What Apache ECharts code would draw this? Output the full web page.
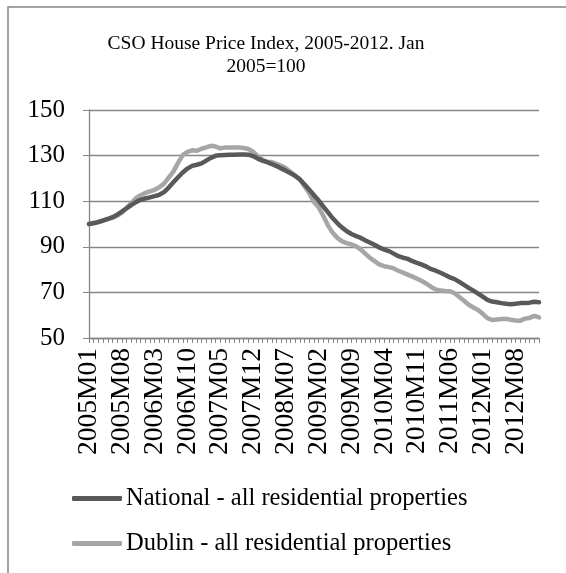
<!DOCTYPE html>
<html>
<head>
<meta charset="utf-8">
<script src="https://cdn.jsdelivr.net/npm/echarts@6/dist/echarts.min.js"></script>
<style>
  html, body { margin: 0; padding: 0; background: #fff; }
  #chart { width: 566px; height: 573px; }
</style>
</head>
<body>
<div id="chart"></div>
<script>
// Monthly periods 2005M01 .. 2013M01
const years = [2005, 2006, 2007, 2008, 2009, 2010, 2011, 2012, 2013];
const monthCodes = ['01','02','03','04','05','06','07','08','09','10','11','12'];
const months = [];
years.forEach(y => monthCodes.forEach(m => { if (y < 2013 || m === '01') months.push(y + 'M' + m); }));

const seriesNames = ['National - all residential properties', 'Dublin - all residential properties'];

// CSO residential property price index, Jan 2005 = 100
const national = [
  100.0, 100.3, 100.8, 101.5, 102.2, 103.0, 104.1, 105.4, 106.9, 108.3, 109.6, 110.6,
  111.2, 111.7, 112.2, 112.8, 114.0, 116.0, 118.3, 120.5, 122.6, 124.3, 125.5, 126.0,
  126.6, 127.8, 129.0, 129.9, 130.2, 130.3, 130.4, 130.4, 130.5, 130.5, 130.4, 129.8,
  128.7, 127.8, 127.1, 126.3, 125.4, 124.4, 123.4, 122.3, 121.2, 119.5, 117.3, 115.0,
  112.6, 110.3, 107.6, 105.1, 102.5, 100.3, 98.4, 96.8, 95.6, 94.7, 93.9, 92.8,
  91.8, 90.8, 89.6, 88.8, 88.1, 87.0, 85.9, 85.2, 84.7, 83.7, 82.9, 82.2,
  81.3, 80.2, 79.5, 78.6, 77.6, 76.6, 75.8, 74.6, 73.3, 72.0, 70.8, 69.5,
  68.1, 66.7, 66.0, 65.7, 65.3, 65.0, 64.8, 65.0, 65.3, 65.4, 65.5, 65.9,
  65.7
];
const dublin = [
  100.0, 100.6, 101.0, 101.6, 102.2, 102.7, 103.6, 105.0, 107.0, 109.2, 111.3, 112.6,
  113.6, 114.3, 115.0, 116.1, 117.7, 120.3, 123.0, 126.8, 130.2, 131.6, 132.3, 132.1,
  133.0, 133.6, 134.3, 134.0, 133.2, 133.5, 133.6, 133.6, 133.6, 133.3, 132.9, 131.7,
  129.8, 128.2, 127.3, 127.2, 126.4, 125.5, 124.5, 122.8, 121.0, 119.5, 116.5, 113.5,
  109.6, 107.3, 103.5, 99.3, 96.1, 93.9, 92.4, 91.6, 91.0, 90.2, 88.8, 86.9,
  85.0, 83.6, 82.2, 81.5, 81.1, 80.5, 79.5, 78.7, 77.8, 76.9, 76.0, 75.0,
  73.8, 72.4, 71.3, 70.8, 70.6, 70.5, 69.6, 68.0, 66.3, 64.6, 63.4, 62.3,
  60.6, 58.7, 57.9, 58.1, 58.3, 58.4, 58.0, 57.7, 57.6, 58.5, 58.8, 59.7,
  59.0
];

const yTicks = { min: 50, max: 150, step: 20 };
const colors = ['#595959', '#a6a6a6'];
const serif = "'Liberation Serif', 'Times New Roman', serif";

const chart = echarts.init(document.getElementById('chart'), null, { renderer: 'canvas' });
chart.setOption({
  animation: false,
  backgroundColor: '#ffffff',
  title: {
    text: 'CSO House Price Index, 2005-2012. Jan\n2005=100',
    left: 261,
    top: 27,
    textAlign: 'center',
    textStyle: { fontFamily: serif, fontSize: 19.5, fontWeight: 'normal', color: '#000', lineHeight: 23 }
  },
  graphic: [{
    type: 'rect',
    shape: { x: 8, y: 7, width: 700, height: 700 },
    style: { fill: 'none', stroke: '#868686', lineWidth: 1.5 },
    silent: true
  }],
  legend: {
    orient: 'vertical',
    left: 67,
    top: 481,
    itemWidth: 50,
    itemHeight: 5,
    itemGap: 20,
    icon: 'roundRect',
    textStyle: { fontFamily: serif, fontSize: 24.5, color: '#000', padding: [0, 0, 0, -1] },
    data: seriesNames
  },
  grid: { left: 89, right: 27, top: 110, bottom: 235, containLabel: false },
  xAxis: {
    type: 'category',
    data: months,
    boundaryGap: false,
    axisLine: { lineStyle: { color: '#868686', width: 1.3 } },
    axisTick: { show: true, interval: 0, length: 5, lineStyle: { color: '#868686' } },
    axisLabel: {
      interval: 6,
      rotate: 90,
      margin: 10,
      fontFamily: serif,
      fontSize: 27.5,
      color: '#000'
    },
    splitLine: { show: false }
  },
  yAxis: {
    type: 'value',
    min: yTicks.min,
    max: yTicks.max,
    interval: yTicks.step,
    axisLine: { show: true, lineStyle: { color: '#868686', width: 1.3 } },
    axisTick: { show: true, length: 6, lineStyle: { color: '#868686' } },
    axisLabel: { margin: 24, fontFamily: serif, fontSize: 25, color: '#000' },
    splitLine: { lineStyle: { color: '#868686', width: 1.3 } }
  },
  series: [
    {
      name: seriesNames[0],
      type: 'line',
      data: national,
      showSymbol: false,
      smooth: false,
      itemStyle: { color: colors[0] },
      lineStyle: { color: colors[0], width: 4.5, cap: 'round', join: 'round' },
      z: 3
    },
    {
      name: seriesNames[1],
      type: 'line',
      data: dublin,
      showSymbol: false,
      smooth: false,
      itemStyle: { color: colors[1] },
      lineStyle: { color: colors[1], width: 4.5, cap: 'round', join: 'round' },
      z: 2
    }
  ]
});
</script>
</body>
</html>
